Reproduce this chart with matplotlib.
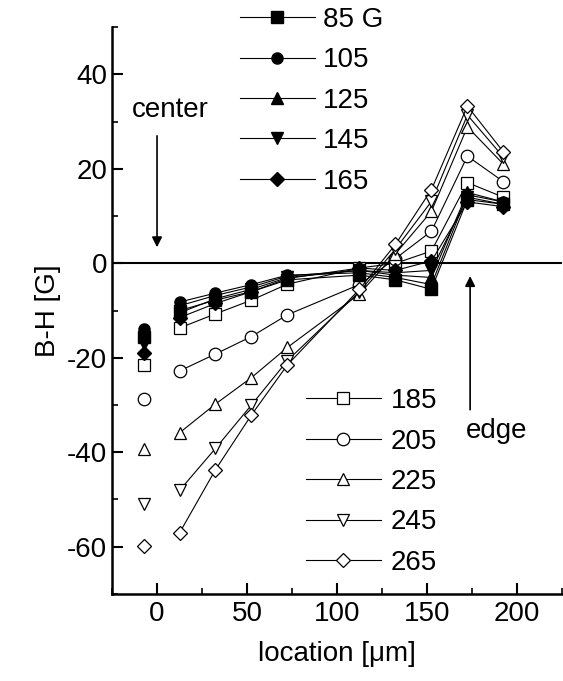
import numpy as np
import matplotlib
matplotlib.use("Agg")
import matplotlib.pyplot as plt
from matplotlib.ticker import MultipleLocator

# ============================================================
# DATA
# ============================================================

x_center = -7.5
x_line = [12.5, 32.5, 52.5, 72.5, 112.5, 132.5, 152.5, 172.5, 192.5]

labels_filled = ["85 G", "105", "125", "145", "165"]
labels_open = ["185", "205", "225", "245", "265"]
markers = ["s", "o", "^", "v", "D"]

# value at the center point (x = -7.5), not joined to the lines
center_filled = [-15.5, -14.0, -15.0, -17.0, -19.0]
center_open = [-21.6, -28.8, -39.3, -50.9, -59.9]

y_85 = [-10.0, -7.8, -6.0, -3.5, -2.5, -3.5, -5.5, 13.5, 12.5]
y_105 = [-8.2, -6.3, -4.5, -2.5, -2.0, -3.0, -4.5, 14.5, 13.0]
y_125 = [-9.0, -6.8, -5.0, -2.7, -1.5, -2.5, -3.0, 15.0, 13.0]
y_145 = [-10.5, -7.5, -5.5, -3.0, -1.5, -2.0, -1.5, 14.0, 12.5]
y_165 = [-11.5, -8.5, -6.0, -3.2, -1.0, -1.5, 0.5, 13.0, 12.0]

y_185 = [-13.7, -10.7, -7.8, -4.4, -1.0, 0.0, 2.6, 17.1, 14.0]
y_205 = [-22.8, -19.2, -15.5, -10.9, -4.5, 1.0, 6.8, 22.7, 17.3]
y_225 = [-35.9, -29.8, -24.2, -17.8, -6.5, 2.0, 11.0, 28.9, 21.0]
y_245 = [-48.1, -39.2, -30.0, -20.6, -6.0, 3.0, 13.1, 31.4, 22.5]
y_265 = [-57.1, -43.7, -32.1, -21.5, -5.5, 4.0, 15.6, 33.3, 23.6]

filled_series = [y_85, y_105, y_125, y_145, y_165]
open_series = [y_185, y_205, y_225, y_245, y_265]

# ============================================================
# STYLE
# ============================================================

plt.rcParams["font.family"] = ["Liberation Sans", "DejaVu Sans"]
plt.rcParams["font.size"] = 20
plt.rcParams["axes.unicode_minus"] = False

fig = plt.figure(figsize=(5.63, 6.81), dpi=100)
ax = fig.add_axes([0.199, 0.128, 0.799, 0.832])

# ============================================================
# PLOT
# ============================================================

ax.axhline(0, color="black", linewidth=1.5, zorder=1)

handles_filled = []
for ys, yc, m, lab in zip(filled_series, center_filled, markers, labels_filled):
    ms = 8 if m != "D" else 7
    h, = ax.plot(x_line, ys, color="black", linewidth=0.8, marker=m,
                 markersize=ms, markerfacecolor="black",
                 markeredgecolor="black", label=lab, zorder=3)
    ax.plot([x_center], [yc], linestyle="none", marker=m, markersize=ms,
            markerfacecolor="black", markeredgecolor="black", zorder=3)
    handles_filled.append(h)

handles_open = []
for ys, yc, m, lab in zip(open_series, center_open, markers, labels_open):
    ms = 9 if m != "D" else 7.5
    h, = ax.plot(x_line, ys, color="black", linewidth=0.8, marker=m,
                 markersize=ms, markerfacecolor="white",
                 markeredgecolor="black", markeredgewidth=0.9,
                 label=lab, zorder=2)
    ax.plot([x_center], [yc], linestyle="none", marker=m, markersize=ms,
            markerfacecolor="white", markeredgecolor="black",
            markeredgewidth=0.9, zorder=2)
    handles_open.append(h)

# ============================================================
# ANNOTATIONS
# ============================================================

ax.annotate("", xy=(0, 3.4), xytext=(0, 27),
            arrowprops=dict(arrowstyle="-|>", color="black", lw=1.2,
                            mutation_scale=15, shrinkA=0, shrinkB=0))
ax.text(7.6, 32.5, "center", ha="center", va="center", fontsize=20)

ax.annotate("", xy=(174, -2.7), xytext=(174, -31),
            arrowprops=dict(arrowstyle="-|>", color="black", lw=1.2,
                            mutation_scale=15, shrinkA=0, shrinkB=0))
ax.text(189, -35.6, "edge", ha="center", va="center", fontsize=20)

# ============================================================
# LEGENDS
# ============================================================

leg1 = ax.legend(handles=handles_filled, loc="upper left",
                 bbox_to_anchor=(0.284, 1.036), frameon=False,
                 borderaxespad=0, borderpad=0, numpoints=1,
                 handlelength=2.7, handletextpad=0.3, labelspacing=0.52,
                 fontsize=20)
ax.add_artist(leg1)

ax.legend(handles=handles_open, loc="upper left",
          bbox_to_anchor=(0.431, 0.363), frameon=False,
          borderaxespad=0, borderpad=0, numpoints=1,
          handlelength=2.7, handletextpad=0.35, labelspacing=0.52,
          fontsize=20)

# ============================================================
# AXES
# ============================================================

ax.set_xlim(-25, 225)
ax.set_ylim(-70, 50)

ax.xaxis.set_major_locator(MultipleLocator(50))
ax.xaxis.set_minor_locator(MultipleLocator(25))
ax.yaxis.set_major_locator(MultipleLocator(20))
ax.yaxis.set_minor_locator(MultipleLocator(10))

ax.spines["top"].set_visible(False)
ax.spines["right"].set_visible(False)
ax.spines["left"].set_linewidth(1.8)
ax.spines["bottom"].set_linewidth(1.8)

ax.tick_params(which="major", direction="in", length=8, width=1.5,
               labelsize=20)
ax.tick_params(axis="x", which="major", pad=5)
ax.tick_params(which="minor", direction="in", length=4, width=1.2)

ax.set_xlabel("location [μm]", fontsize=20, labelpad=10)
ax.set_ylabel("B-H [G]", fontsize=20)

plt.savefig("out.png", dpi=100)
